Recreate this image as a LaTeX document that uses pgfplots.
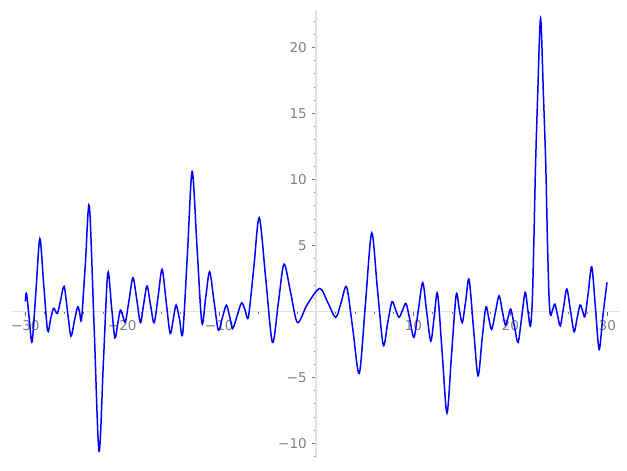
\documentclass[border=0pt]{standalone}
\usepackage{fontspec}
\setmainfont{DejaVu Sans}
\usepackage{pgfplots}
\pgfplotsset{compat=1.18}
\begin{document}
\begin{tikzpicture}
\begin{axis}[
  set layers,
  scale only axis, width=447.9pt, height=330.5pt,
  xmin=-31.3, xmax=31.3, ymin=-11.11, ymax=22.83,
  axis lines=middle,
  axis line style={-, black!12, line width=1.2pt},
  xtick={-30,-20,-10,10,20,30},
  xticklabels={−30,−20,−10,10,20,30},
  ytick={-10,-5,5,10,15,20},
  yticklabels={−10,−5,5,10,15,20},
  minor xtick={-30,-28,...,30},
  minor ytick={-11,-10,...,22},
  tick align=outside,
  major tick length=3.5pt, minor tick length=2pt,
  major tick style={black!55, line width=0.8pt},
  minor tick style={black!55, line width=0.6pt},
  ticklabel style={font=\fontsize{10}{12}\selectfont, text=black!50},
  clip=false,
]
\addplot[blue, line width=1.1pt, smooth] coordinates {
(-30.0,0.75) (-29.88,1.38) (-29.6,-0.5) (-29.3,-2.3) (-28.9,1.6) (-28.5,5.5)
(-28.1,2.0) (-27.7,-1.47) (-27.4,-0.6) (-27.1,0.23) (-26.9,0.04) (-26.68,-0.15)
(-26.35,0.88) (-26.0,1.9) (-25.65,0.0) (-25.3,-1.87) (-24.95,-0.76) (-24.6,0.35)
(-24.4,-0.08) (-24.2,-0.56) (-23.8,3.7) (-23.4,8.0) (-22.9,-1.3) (-22.4,-10.6)
(-21.95,-3.86) (-21.5,2.88) (-21.12,0.44) (-20.77,-2.0) (-20.48,-0.95) (-20.2,0.1)
(-19.95,-0.35) (-19.68,-0.8) (-19.3,0.87) (-18.9,2.55) (-18.5,0.85) (-18.13,-0.85)
(-17.8,0.55) (-17.45,1.92) (-17.1,0.53) (-16.72,-0.86) (-16.3,1.17) (-15.9,3.2)
(-15.48,0.74) (-15.07,-1.67) (-14.75,-0.6) (-14.45,0.48) (-14.1,-0.6) (-13.77,-1.67)
(-13.28,4.45) (-12.8,10.6) (-12.3,4.9) (-11.8,-0.86) (-11.4,1.07) (-11.0,3.0)
(-10.55,0.8) (-10.1,-1.42) (-9.68,-0.47) (-9.27,0.47) (-8.93,-0.41) (-8.62,-1.3)
(-8.16,-0.32) (-7.7,0.65) (-7.35,0.12) (-7.0,-0.42) (-6.44,3.34) (-5.88,7.1)
(-5.2,2.37) (-4.52,-2.35) (-3.92,0.6) (-3.33,3.58) (-2.63,1.36) (-1.94,-0.85)
(-0.95,0.5) (0.35,1.74) (1.2,0.65) (2.0,-0.45) (2.57,0.7) (3.13,1.84)
(3.78,-1.43) (4.43,-4.7) (5.07,0.62) (5.71,5.95) (6.3,1.7) (6.9,-2.55)
(7.35,-0.9) (7.8,0.73) (8.17,0.14) (8.53,-0.45) (8.89,0.08) (9.25,0.6)
(9.66,-0.69) (10.07,-1.97) (10.52,0.1) (10.97,2.18) (11.38,-0.04) (11.8,-2.25)
(12.15,-0.45) (12.5,1.36) (12.98,-3.17) (13.47,-7.7) (13.95,-3.2) (14.42,1.26)
(14.73,0.2) (15.05,-0.85) (15.4,0.78) (15.75,2.42) (16.2,-1.23) (16.67,-4.88)
(17.07,-2.28) (17.48,0.33) (17.78,-0.52) (18.08,-1.36) (18.46,-0.09) (18.84,1.18)
(19.17,0.06) (19.5,-1.06) (19.77,-0.45) (20.05,0.17) (20.42,-1.1) (20.8,-2.36)
(21.17,-0.46) (21.53,1.44) (21.8,0.15) (22.07,-1.13) (22.27,0.8) (22.42,5.0)
(22.6,11.0) (22.82,16.3) (23.12,22.2) (23.42,16.3) (23.66,11.0) (23.84,5.0)
(24.0,1.0) (24.15,-0.28) (24.37,0.14) (24.59,0.55) (24.87,-0.27) (25.15,-1.09)
(25.49,0.3) (25.83,1.7) (26.2,0.08) (26.58,-1.54) (26.88,-0.53) (27.19,0.48)
(27.45,0.05) (27.7,-0.38) (28.05,1.5) (28.4,3.38) (28.78,0.25) (29.16,-2.88)
(29.55,-0.3) (29.97,2.2)
};
\end{axis}
\pgfresetboundingbox
\path ([shift={(-9.37pt,-8.85pt)}]current axis.south west) rectangle ([shift={(5.24pt,7.38pt)}]current axis.north east);
\end{tikzpicture}
\end{document}
